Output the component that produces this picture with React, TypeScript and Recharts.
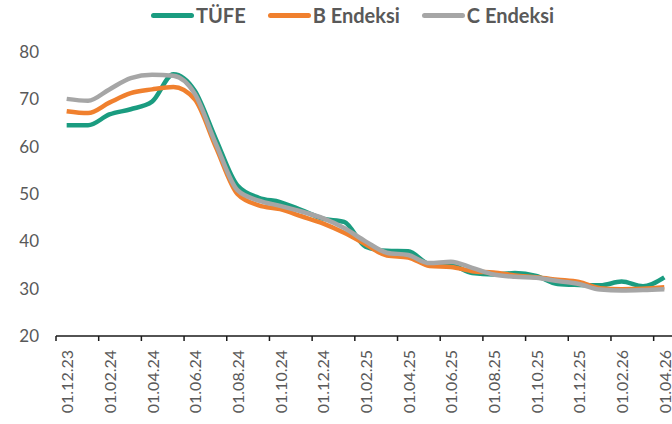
import React from 'react';
import { LineChart, Line, XAxis, YAxis } from 'recharts';

const categories = [
  '01.12.23', '01.01.24', '01.02.24', '01.03.24', '01.04.24', '01.05.24', '01.06.24',
  '01.07.24', '01.08.24', '01.09.24', '01.10.24', '01.11.24', '01.12.24', '01.01.25',
  '01.02.25', '01.03.25', '01.04.25', '01.05.25', '01.06.25', '01.07.25', '01.08.25',
  '01.09.25', '01.10.25', '01.11.25', '01.12.25', '01.01.26', '01.02.26', '01.03.26',
  '01.04.26',
];

const tufe = [
  64.5, 64.5, 66.8, 67.9, 69.5, 75.3, 71.8, 61.5, 51.8, 49.2, 48.3, 46.6, 44.8, 44.1,
  38.9, 38.0, 37.9, 35.2, 35.0, 33.3, 33.0, 33.3, 32.7, 31.0, 30.8, 30.7, 31.5, 30.5,
  32.4,
];

const bEndeksi = [
  67.5, 67.1, 69.3, 71.3, 72.1, 72.6, 70.0, 59.8, 50.0, 47.6, 46.8, 45.3, 43.8, 41.8,
  39.4, 37.0, 36.6, 34.8, 34.6, 33.7, 33.4, 32.8, 32.4, 31.9, 31.4, 30.1, 29.9, 30.0,
  30.3,
];

const cEndeksi = [
  70.1, 69.7, 72.1, 74.5, 75.2, 75.0, 71.2, 60.5, 50.8, 48.6, 47.5, 46.3, 44.9, 42.8,
  40.0, 37.6, 37.1, 35.4, 35.7, 34.4, 33.0, 32.5, 32.3, 31.6, 31.0, 29.8, 29.6, 29.7,
  29.9,
];

const yTicks = [20, 30, 40, 50, 60, 70, 80];

const seriesKeys = ['tufe', 'b', 'c'];
const seriesNames = ['TÜFE', 'B Endeksi', 'C Endeksi'];
const seriesColors = ['#1a9c80', '#f0802e', '#a6a6a6'];

const CHART_W = 690;
const CHART_H = 424;
const MARGIN = { top: 52, right: 15, bottom: 0, left: 0 };
const Y_W = 56;
const X_H = 88;
const PLOT_W = CHART_W - MARGIN.left - MARGIN.right - Y_W;
const BAND = PLOT_W / categories.length;

const TEXT_COLOR = '#595959';
const FONT = 'Lato, "Open Sans", sans-serif';

const data = categories.map((cat, i) => ({
  cat,
  tufe: tufe[i],
  b: bEndeksi[i],
  c: cEndeksi[i],
}));

function XTick(props: any) {
  const { x, y, payload } = props;
  const left = x - BAND / 2;
  return (
    <g>
      <line x1={left} x2={left} y1={y} y2={y + 5} stroke="#1a1a1a" strokeWidth={1.5} />
      <text
        transform={`translate(${x},${y + 14}) rotate(-90)`}
        textAnchor="end"
        dominantBaseline="central"
        fill={TEXT_COLOR}
        fontSize={16}
        fontFamily={FONT}
      >
        {payload.value}
      </text>
    </g>
  );
}

function LegendBox() {
  return (
    <div
      style={{
        position: 'absolute',
        left: 151,
        top: 4,
        display: 'flex',
        alignItems: 'center',
        height: 22,
        fontFamily: FONT,
        fontWeight: 700,
        fontSize: 20,
        color: TEXT_COLOR,
        whiteSpace: 'nowrap',
      }}
    >
      {seriesNames.map((name, i) => (
        <div key={name} style={{ display: 'flex', alignItems: 'center', marginRight: 22 }}>
          <span
            style={{
              display: 'inline-block',
              width: 43,
              height: 5,
              borderRadius: 3,
              background: seriesColors[i],
              marginRight: 2,
            }}
          />
          <span>{name}</span>
        </div>
      ))}
    </div>
  );
}

export default function App() {
  return (
    <div
      style={{
        position: 'absolute',
        left: 0,
        top: 0,
        width: 672,
        height: 424,
        overflow: 'hidden',
        background: '#fff',
      }}
    >
      <LineChart width={CHART_W} height={CHART_H} data={data} margin={MARGIN}>
        <XAxis
          dataKey="cat"
          interval={1}
          padding={{ left: BAND / 2, right: BAND / 2 }}
          tickLine={false}
          tickSize={0}
          tickMargin={0}
          axisLine={{ stroke: '#1a1a1a', strokeWidth: 1.5 }}
          height={X_H}
          tick={<XTick />}
        />
        <YAxis
          width={Y_W}
          domain={[20, 80]}
          ticks={yTicks}
          axisLine={false}
          tickLine={false}
          tickSize={0}
          tickMargin={17}
          tick={{ fill: TEXT_COLOR, fontSize: 17, fontFamily: FONT }}
        />
        {seriesKeys.map((k, i) => (
          <Line
            key={k}
            dataKey={k}
            name={seriesNames[i]}
            type="monotone"
            stroke={seriesColors[i]}
            strokeWidth={4.5}
            dot={false}
            activeDot={false}
            isAnimationActive={false}
          />
        ))}
      </LineChart>
      <LegendBox />
    </div>
  );
}
